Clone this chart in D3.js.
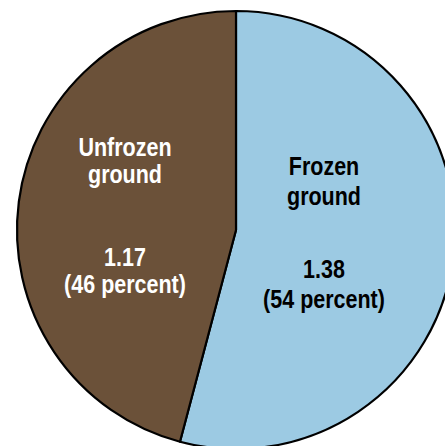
<!DOCTYPE html>
<html><head><meta charset="utf-8">
<script src="https://cdn.jsdelivr.net/npm/d3@7"></script>
<style>body{margin:0;background:#fff}svg{display:block}</style>
</head><body>
<svg id="c" width="445" height="446"></svg>
<script>
const categories = ["Frozen ground", "Unfrozen ground"];
const values = [1.38, 1.17];
const percents = [54, 46];
const colors = ["#9ccae3", "#6b5139"];
const textColors = ["#000000", "#ffffff"];

const svg = d3.select("#c");
const cx = 236, cy = 230, r = 219;
const g = svg.append("g").attr("transform", `translate(${cx},${cy})`);
const pie = d3.pie().sort(null).value(d => d.v);
const data = categories.map((c, i) => ({c, v: values[i], p: percents[i], i}));
const arcs = pie(data);
const arc = d3.arc().innerRadius(0).outerRadius(r);
g.selectAll("path").data(arcs).enter().append("path")
  .attr("d", arc).attr("fill", d => colors[d.data.i])
  .attr("stroke", "#000").attr("stroke-width", 2.2).attr("stroke-linejoin", "round");

const labelPos = [[88, -55], [-111, -74]];
const font = "'Liberation Sans', Arial, sans-serif";
arcs.forEach((a, k) => {
  const d = a.data;
  const words = d.c.split(" ");
  const lines = [words[0], words[1], null, d.v.toFixed(2), `(${d.p} percent)`];
  const t = g.append("text").attr("text-anchor", "middle")
    .attr("font-family", font).attr("font-weight", "bold").attr("font-size", 25)
    .attr("fill", textColors[d.i])
    .attr("transform", `translate(${labelPos[k][0]},${labelPos[k][1]}) scale(0.86,1)`);
  const offs = k === 0 ? [0, 30, null, 103, 133] : [0, 27, null, 110, 137];
  lines.forEach((l, j) => {
    if (l === null) return;
    t.append("tspan").attr("x", 0).attr("y", offs[j]).text(l);
  });
});
</script>
</body></html>
